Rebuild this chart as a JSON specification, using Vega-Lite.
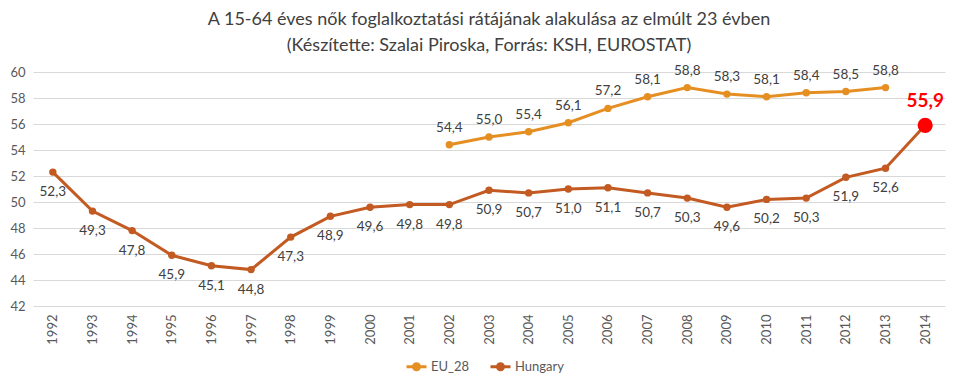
{
  "$schema": "https://vega.github.io/schema/vega-lite/v6.json",
  "autosize": {"type": "none"},
  "padding": {"left": 33, "top": 72, "right": 15, "bottom": 79},
  "width": 912,
  "height": 234,
  "title": {
    "text": ["A 15-64 éves nők foglalkoztatási rátájának alakulása az elmúlt 23 évben", "(Készítette: Szalai Piroska, Forrás: KSH, EUROSTAT)"],
    "anchor": "middle",
    "fontSize": 18,
    "fontWeight": "normal",
    "font": "Lato",
    "color": "#404040",
    "lineHeight": 26,
    "offset": 9
  },
  "config": {
    "locale": {"number": {"decimal": ",", "thousands": " ", "grouping": [3], "currency": ["", ""]}},
    "view": {"stroke": null},
    "font": "Lato"
  },
  "data": {"values": [
    {"year": "1992", "series": "Hungary", "value": 52.3},
    {"year": "1993", "series": "Hungary", "value": 49.3},
    {"year": "1994", "series": "Hungary", "value": 47.8},
    {"year": "1995", "series": "Hungary", "value": 45.9},
    {"year": "1996", "series": "Hungary", "value": 45.1},
    {"year": "1997", "series": "Hungary", "value": 44.8},
    {"year": "1998", "series": "Hungary", "value": 47.3},
    {"year": "1999", "series": "Hungary", "value": 48.9},
    {"year": "2000", "series": "Hungary", "value": 49.6},
    {"year": "2001", "series": "Hungary", "value": 49.8},
    {"year": "2002", "series": "Hungary", "value": 49.8},
    {"year": "2003", "series": "Hungary", "value": 50.9},
    {"year": "2004", "series": "Hungary", "value": 50.7},
    {"year": "2005", "series": "Hungary", "value": 51.0},
    {"year": "2006", "series": "Hungary", "value": 51.1},
    {"year": "2007", "series": "Hungary", "value": 50.7},
    {"year": "2008", "series": "Hungary", "value": 50.3},
    {"year": "2009", "series": "Hungary", "value": 49.6},
    {"year": "2010", "series": "Hungary", "value": 50.2},
    {"year": "2011", "series": "Hungary", "value": 50.3},
    {"year": "2012", "series": "Hungary", "value": 51.9},
    {"year": "2013", "series": "Hungary", "value": 52.6},
    {"year": "2014", "series": "Hungary", "value": 55.9},
    {"year": "2002", "series": "EU_28", "value": 54.4},
    {"year": "2003", "series": "EU_28", "value": 55.0},
    {"year": "2004", "series": "EU_28", "value": 55.4},
    {"year": "2005", "series": "EU_28", "value": 56.1},
    {"year": "2006", "series": "EU_28", "value": 57.2},
    {"year": "2007", "series": "EU_28", "value": 58.1},
    {"year": "2008", "series": "EU_28", "value": 58.8},
    {"year": "2009", "series": "EU_28", "value": 58.3},
    {"year": "2010", "series": "EU_28", "value": 58.1},
    {"year": "2011", "series": "EU_28", "value": 58.4},
    {"year": "2012", "series": "EU_28", "value": 58.5},
    {"year": "2013", "series": "EU_28", "value": 58.8}
  ]},
  "encoding": {
    "x": {
      "field": "year", "type": "ordinal",
      "scale": {"type": "point", "padding": 0.5},
      "axis": {"title": null, "labelAngle": -90, "ticks": false, "domain": false, "labelPadding": 8, "labelFontSize": 13, "labelColor": "#595959", "labelFont": "Lato"}
    },
    "y": {
      "field": "value", "type": "quantitative",
      "scale": {"domain": [42, 60], "nice": false, "zero": false},
      "axis": {"title": null, "values": [42, 44, 46, 48, 50, 52, 54, 56, 58, 60], "ticks": false, "domain": false, "gridColor": "#d9d9d9", "labelPadding": 8, "labelFontSize": 13, "labelColor": "#595959", "labelFont": "Lato"}
    }
  },
  "layer": [
    {
      "mark": {"type": "line", "strokeWidth": 3},
      "encoding": {
        "color": {
          "field": "series", "type": "nominal",
          "scale": {"domain": ["EU_28", "Hungary"], "range": ["#E58F22", "#C25A22"]},
          "legend": {
            "title": null, "orient": "none", "direction": "horizontal",
            "legendX": 372, "legendY": 283,
            "symbolType": "M-1,0L1,0M-0.3,0A0.3,0.3 0 1,1 0.3,0A0.3,0.3 0 1,1 -0.3,0Z",
            "symbolSize": 400, "symbolStrokeWidth": 3,
            "labelFontSize": 13, "labelColor": "#595959", "labelFont": "Lato",
            "columnPadding": 14, "labelOffset": 3
          }
        }
      }
    },
    {
      "transform": [{"filter": "datum.year != '2014'"}],
      "mark": {"type": "point", "filled": true, "size": 55, "opacity": 1},
      "encoding": {
        "color": {"field": "series", "type": "nominal", "legend": null}
      }
    },
    {
      "transform": [{"filter": "datum.series == 'EU_28'"}],
      "mark": {"type": "text", "dy": -17, "fontSize": 13.5, "color": "#404040", "font": "Lato"},
      "encoding": {"text": {"field": "value", "type": "quantitative", "format": ".1f"}}
    },
    {
      "transform": [{"filter": "datum.series == 'Hungary' && datum.year != '2014'"}],
      "mark": {"type": "text", "dy": 20, "fontSize": 13.5, "color": "#404040", "font": "Lato"},
      "encoding": {"text": {"field": "value", "type": "quantitative", "format": ".1f"}}
    },
    {
      "transform": [{"filter": "datum.year == '2014'"}],
      "mark": {"type": "point", "filled": true, "size": 230, "color": "#FF0000", "opacity": 1}
    },
    {
      "transform": [{"filter": "datum.year == '2014'"}],
      "mark": {"type": "text", "dy": -24, "fontSize": 19, "fontWeight": "bold", "color": "#FF0000", "font": "Lato"},
      "encoding": {"text": {"field": "value", "type": "quantitative", "format": ".1f"}}
    }
  ]
}
